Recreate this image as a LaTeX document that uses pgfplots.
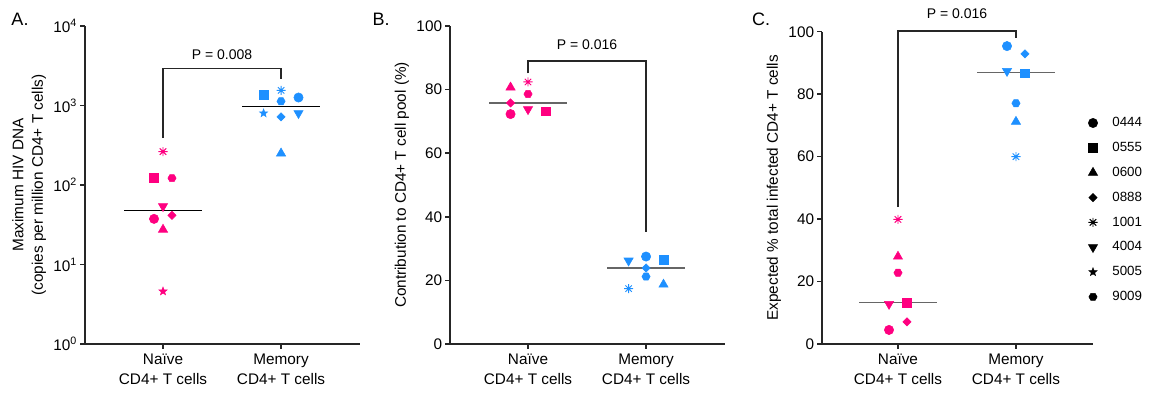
\documentclass[border=0pt]{standalone}
\usepackage{fontspec}
\setmainfont{Liberation Sans}
\usepackage{pgfplots}
\pgfplotsset{compat=1.18}
\usetikzlibrary{plotmarks}

\definecolor{pk}{RGB}{255,0,128}
\definecolor{bl}{RGB}{30,144,255}
\definecolor{ax}{RGB}{38,38,38}

\pgfdeclareplotmark{hex*}{%
 \pgfpathmoveto{\pgfpointpolar{0}{\pgfplotmarksize}}%
 \pgfpathlineto{\pgfpointpolar{60}{\pgfplotmarksize}}%
 \pgfpathlineto{\pgfpointpolar{120}{\pgfplotmarksize}}%
 \pgfpathlineto{\pgfpointpolar{180}{\pgfplotmarksize}}%
 \pgfpathlineto{\pgfpointpolar{240}{\pgfplotmarksize}}%
 \pgfpathlineto{\pgfpointpolar{300}{\pgfplotmarksize}}%
 \pgfpathclose\pgfusepathqfillstroke}
\pgfdeclareplotmark{dtri*}{%
 \pgfpathmoveto{\pgfpointpolar{-90}{\pgfplotmarksize}}%
 \pgfpathlineto{\pgfpointpolar{30}{\pgfplotmarksize}}%
 \pgfpathlineto{\pgfpointpolar{150}{\pgfplotmarksize}}%
 \pgfpathclose\pgfusepathqfillstroke}
\pgfdeclareplotmark{utri*}{%
 \pgfpathmoveto{\pgfpointpolar{90}{\pgfplotmarksize}}%
 \pgfpathlineto{\pgfpointpolar{-30}{\pgfplotmarksize}}%
 \pgfpathlineto{\pgfpointpolar{210}{\pgfplotmarksize}}%
 \pgfpathclose\pgfusepathqfillstroke}
\pgfdeclareplotmark{dia*}{%
 \pgfpathmoveto{\pgfpointpolar{0}{\pgfplotmarksize}}%
 \pgfpathlineto{\pgfpointpolar{90}{\pgfplotmarksize}}%
 \pgfpathlineto{\pgfpointpolar{180}{\pgfplotmarksize}}%
 \pgfpathlineto{\pgfpointpolar{270}{\pgfplotmarksize}}%
 \pgfpathclose\pgfusepathqfillstroke}
\pgfdeclareplotmark{fstar*}{%
 \pgfpathmoveto{\pgfpointpolar{90}{\pgfplotmarksize}}%
 \pgfpathlineto{\pgfpointpolar{126}{0.42\pgfplotmarksize}}%
 \pgfpathlineto{\pgfpointpolar{162}{\pgfplotmarksize}}%
 \pgfpathlineto{\pgfpointpolar{198}{0.42\pgfplotmarksize}}%
 \pgfpathlineto{\pgfpointpolar{234}{\pgfplotmarksize}}%
 \pgfpathlineto{\pgfpointpolar{270}{0.42\pgfplotmarksize}}%
 \pgfpathlineto{\pgfpointpolar{306}{\pgfplotmarksize}}%
 \pgfpathlineto{\pgfpointpolar{342}{0.42\pgfplotmarksize}}%
 \pgfpathlineto{\pgfpointpolar{18}{\pgfplotmarksize}}%
 \pgfpathlineto{\pgfpointpolar{54}{0.42\pgfplotmarksize}}%
 \pgfpathclose\pgfusepathqfillstroke}
\pgfdeclareplotmark{ast8}{%
 \pgfpathmoveto{\pgfpointpolar{0}{\pgfplotmarksize}}\pgfpathlineto{\pgfpointpolar{180}{\pgfplotmarksize}}%
 \pgfpathmoveto{\pgfpointpolar{45}{\pgfplotmarksize}}\pgfpathlineto{\pgfpointpolar{225}{\pgfplotmarksize}}%
 \pgfpathmoveto{\pgfpointpolar{90}{\pgfplotmarksize}}\pgfpathlineto{\pgfpointpolar{270}{\pgfplotmarksize}}%
 \pgfpathmoveto{\pgfpointpolar{135}{\pgfplotmarksize}}\pgfpathlineto{\pgfpointpolar{315}{\pgfplotmarksize}}%
 \pgfusepathqstroke}

\tikzset{
 brk/.style={line width=1.1pt, color=ax},
 ptxt/.style={font=\fontsize{10.5}{12}\selectfont},
 m0444/.style={mark=*,mark size=3.5pt},
 m0555/.style={mark=square*,mark size=3.3pt},
 m0600/.style={mark=utri*,mark size=4pt},
 m0888/.style={mark=dia*,mark size=3.1pt},
 m1001/.style={mark=ast8,mark size=3.4pt,line width=0.7pt},
 m4004/.style={mark=dtri*,mark size=4pt},
 m5005/.style={mark=fstar*,mark size=3.2pt},
 m9009/.style={mark=hex*,mark size=3.1pt},
}
\pgfplotsset{
 cls/.style={scatter, only marks, scatter src=explicit symbolic,
  scatter/classes={
   n0444={m0444,pk}, n0555={m0555,pk}, n0600={m0600,pk}, n0888={m0888,pk},
   n1001={m1001,pk}, n4004={m4004,pk}, n5005={m5005,pk}, n9009={m9009,pk},
   b0444={m0444,bl}, b0555={m0555,bl}, b0600={m0600,bl}, b0888={m0888,bl},
   b1001={m1001,bl}, b4004={m4004,bl}, b5005={m5005,bl}, b9009={m9009,bl}}},
 myax/.style={
  scale only axis, clip=false,
  axis lines=left,
  axis line style={-, line width=1.1pt, color=ax},
  major tick style={line width=1.1pt, color=ax},
  tick align=outside, major tick length=3.75pt,
  xtick={1,2}, xmin=0.339, xmax=2.669,
  xticklabels={{Naïve\\CD4+ T cells},{Memory\\CD4+ T cells}},
  xticklabel style={align=center, font=\fontsize{11.5}{15}\selectfont},
  yticklabel style={font=\fontsize{11.5}{14}\selectfont, inner sep=2pt},
  ylabel style={font=\fontsize{11.5}{14.5}\selectfont, align=center},
  /pgf/number format/assume math mode=true,
  minor tick num=0,
 },
 med/.style={no marks, line width=1pt},
}

\begin{document}
\begin{tikzpicture}
\useasboundingbox (0,0) rectangle (864.75pt,299.25pt);

\node[font=\fontsize{13.5}{15}\selectfont] at (15pt,285pt) {A.};
\node[font=\fontsize{13.5}{15}\selectfont] at (285.75pt,285pt) {B.};
\node[font=\fontsize{13.5}{15}\selectfont] at (570.75pt,285pt) {C.};

% Panel A
\begin{axis}[myax, at={(63.75pt,41.25pt)}, anchor=south west,
  width=206.25pt, height=238.5pt,
  ymode=log, ymin=1, ymax=10000,
  ytick={1,10,100,1000,10000},
  yticklabels={10\textsuperscript{0},10\textsuperscript{1},10\textsuperscript{2},10\textsuperscript{3},10\textsuperscript{4}},
  yminorticks=false,
  ylabel={Maximum HIV DNA\\(copies per million CD4+ T cells)}]
\addplot[med, black] coordinates {(0.67,48) (1.33,48)};
\addplot[med, black] coordinates {(1.67,980) (2.33,980)};
\addplot[cls] table[meta=c] {
x y c
1 263 n1001
0.924 122 n0555
1.076 122 n9009
1 54 n4004
0.924 37.5 n0444
1.076 41.5 n0888
1 27.5 n0600
1 4.6 n5005
1.852 1350 b0555
2 1550 b1001
2 1130 b9009
2.148 1260 b0444
1.852 800 b5005
2 720 b0888
2.148 800 b4004
2 250 b0600
};
\draw[brk] (axis cs:1,389) |- (axis cs:2,2904) -- (axis cs:2,2153);
\node[ptxt] at (axis cs:1.5,4315) {P = 0.008};
\end{axis}

% Panel B
\begin{axis}[myax, at={(337.5pt,41.25pt)}, anchor=south west,
  width=206.25pt, height=238.5pt,
  ymin=0, ymax=100, ytick={0,20,40,60,80,100},
  ylabel={Contribution to CD4+ T cell pool (\%)}]
\addplot[med, black!60] coordinates {(0.67,75.8) (1.33,75.8)};
\addplot[med, black!60] coordinates {(1.67,23.9) (2.33,23.9)};
\addplot[cls] table[meta=c] {
x y c
0.852 80.7 n0600
1 82.4 n1001
1 78.6 n9009
0.852 75.8 n0888
0.852 72.3 n0444
1 73.8 n4004
1.148 73.2 n0555
1.852 26.2 b4004
2 27.5 b0444
2.148 26.6 b0555
2 23.9 b0888
2 21.2 b9009
2.148 18.7 b0600
1.852 17.4 b1001
};
\draw[brk] (axis cs:1,85.1) |- (axis cs:2,89.0) -- (axis cs:2,35.3);
\node[ptxt] at (axis cs:1.5,94.2) {P = 0.016};
\end{axis}

% Panel C
\begin{axis}[myax, at={(616.5pt,41.25pt)}, anchor=south west,
  width=203.25pt, height=234.2pt, xmin=0.356, xmax=2.653,
  ymin=0, ymax=100, ytick={0,20,40,60,80,100},
  ylabel={Expected \% total infected CD4+ T cells},
  legend style={draw=none, fill=none, font=\fontsize{10}{12}\selectfont,
    at={(0.967,0.7395)}, anchor=north west, row sep=8.15pt, column sep=10pt,
    nodes={inner sep=1pt}},
  legend cell align=left]
\addlegendimage{only marks, m0444, black}
\addlegendimage{only marks, m0555, black}
\addlegendimage{only marks, m0600, black}
\addlegendimage{only marks, m0888, black}
\addlegendimage{only marks, m1001, black}
\addlegendimage{only marks, m4004, black}
\addlegendimage{only marks, m5005, black}
\addlegendimage{only marks, m9009, black}
\legend{0444,0555,0600,0888,1001,4004,5005,9009}
\addplot[med, black!60] coordinates {(0.67,13.2) (1.33,13.2)};
\addplot[med, black!60] coordinates {(1.67,86.9) (2.33,86.9)};
\addplot[cls] table[meta=c] {
x y c
1 39.9 n1001
1 28.0 n0600
1 22.8 n9009
0.924 12.8 n4004
1.076 13.2 n0555
1.076 7.1 n0888
0.924 4.5 n0444
1.924 95.4 b0444
2.076 92.9 b0888
1.924 87.4 b4004
2.076 86.7 b0555
2 77.1 b9009
2 71.2 b0600
2 60.0 b1001
};
\draw[brk] (axis cs:1,43.8) |- (axis cs:2,100.3) -- (axis cs:2,97.9);
\node[ptxt] at (axis cs:1.5,105.7) {P = 0.016};
\end{axis}
\end{tikzpicture}
\end{document}
